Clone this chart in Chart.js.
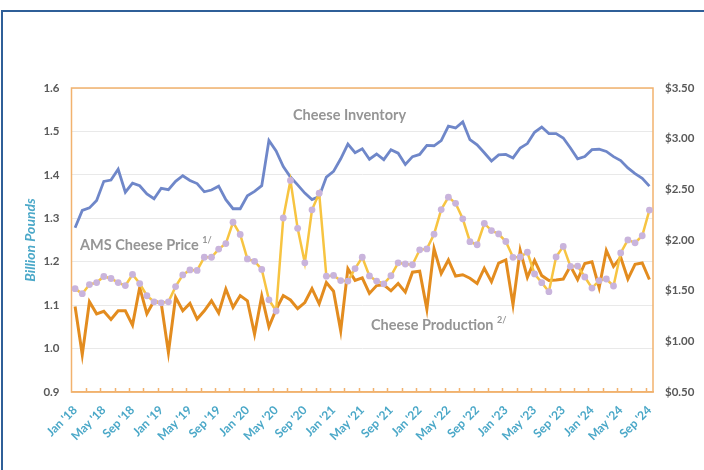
<!DOCTYPE html>
<html>
<head>
<meta charset="utf-8">
<script src="https://cdn.jsdelivr.net/npm/chart.js@4.4.1/dist/chart.umd.min.js"></script>
<style>
  html, body { margin: 0; padding: 0; background: #fff; }
  body { width: 704px; height: 470px; overflow: hidden; position: relative; }
  #frame { position: absolute; left: 1px; top: 10px; width: 780px; height: 540px; border: 2px solid #2f5f98; box-sizing: border-box; }
  #wrap { position: absolute; left: 0; top: 0; width: 704px; height: 470px; }
</style>
</head>
<body>
<div id="frame"></div>
<div id="wrap"><canvas id="myChart" width="704" height="470"></canvas></div>
<script>
'use strict';

// months Jan '18 .. Sep '24
const monthNames = ['Jan', 'Feb', 'Mar', 'Apr', 'May', 'Jun', 'Jul', 'Aug', 'Sep', 'Oct', 'Nov', 'Dec'];
const years = ['18', '19', '20', '21', '22', '23', '24'];
const labels = [];
years.forEach(yr => {
  monthNames.forEach(m => {
    if (labels.length < 81) labels.push(m + " '" + yr);
  });
});

// billion pounds
const inventory = [
  1.278, 1.318, 1.324, 1.341, 1.385, 1.388, 1.413, 1.360, 1.381, 1.375, 1.356, 1.345,
  1.369, 1.366, 1.385, 1.398, 1.387, 1.380, 1.361, 1.365, 1.374, 1.343, 1.322, 1.322,
  1.352, 1.362, 1.375, 1.479, 1.455, 1.419, 1.395, 1.377, 1.358, 1.343, 1.350, 1.395,
  1.408, 1.437, 1.471, 1.451, 1.460, 1.436, 1.448, 1.435, 1.458, 1.450, 1.424, 1.442,
  1.447, 1.468, 1.467, 1.479, 1.512, 1.508, 1.522, 1.481, 1.469, 1.451, 1.432, 1.446,
  1.447, 1.439, 1.462, 1.472, 1.498, 1.510, 1.495, 1.495, 1.485, 1.462, 1.437, 1.442,
  1.458, 1.459, 1.454, 1.442, 1.433, 1.416, 1.403, 1.392, 1.374
];
const production = [
  1.097, 0.986, 1.108, 1.080, 1.086, 1.067, 1.087, 1.087, 1.054, 1.141, 1.080, 1.110,
  1.104, 0.991, 1.118, 1.087, 1.104, 1.068, 1.087, 1.110, 1.082, 1.137, 1.095, 1.122,
  1.110, 1.033, 1.121, 1.050, 1.090, 1.122, 1.112, 1.092, 1.106, 1.138, 1.103, 1.152,
  1.132, 1.041, 1.184, 1.157, 1.163, 1.127, 1.145, 1.147, 1.133, 1.150, 1.130, 1.176,
  1.178, 1.091, 1.230, 1.173, 1.204, 1.167, 1.170, 1.162, 1.150, 1.185, 1.154, 1.197,
  1.204, 1.101, 1.226, 1.164, 1.203, 1.168, 1.157, 1.158, 1.160, 1.190, 1.159, 1.196,
  1.200, 1.140, 1.226, 1.189, 1.210, 1.160, 1.194, 1.197, 1.159
];
// dollars per pound
const price = [
  1.52, 1.47, 1.56, 1.58, 1.64, 1.62, 1.58, 1.55, 1.66, 1.57, 1.45, 1.39,
  1.38, 1.39, 1.54, 1.655, 1.705, 1.70, 1.83, 1.83, 1.91, 1.965, 2.175, 2.055,
  1.813, 1.79, 1.71, 1.41, 1.30, 2.217, 2.588, 2.115, 1.775, 2.298, 2.462, 1.643,
  1.65, 1.60, 1.595, 1.718, 1.83, 1.645, 1.595, 1.568, 1.647, 1.775, 1.763, 1.756,
  1.903, 1.912, 2.057, 2.30, 2.423, 2.362, 2.209, 1.983, 1.953, 2.163, 2.093, 2.06,
  1.985, 1.829, 1.832, 1.879, 1.665, 1.579, 1.49, 1.833, 1.937, 1.74, 1.743, 1.635,
  1.526, 1.60, 1.615, 1.546, 1.872, 2.001, 1.972, 2.042, 2.295
];

const leftTicks = [0.9, 1.0, 1.1, 1.2, 1.3, 1.4, 1.5, 1.6];
const rightTicks = [0.5, 1.0, 1.5, 2.0, 2.5, 3.0, 3.5];

const notes = [
  { text: 'Cheese Inventory', sup: '', x: 293, y: 115 },
  { text: 'AMS Cheese Price', sup: '1/', x: 80, y: 245 },
  { text: 'Cheese Production', sup: '2/', x: 371, y: 325 }
];

Chart.defaults.font.family = 'Lato, "Open Sans", sans-serif';

const axisOrange = '#f2b26e';
const tickGrey = '#595959';
const teal = '#4ba8c8';

const extras = {
  id: 'extras',
  beforeDatasetsDraw(chart) {
    const { ctx, chartArea: a, scales: { x } } = chart;
    ctx.save();
    ctx.strokeStyle = axisOrange;
    ctx.lineWidth = 1.5;
    ctx.strokeRect(a.left, a.top, a.right - a.left, a.bottom - a.top);
    const half = (x.getPixelForValue(1) - x.getPixelForValue(0)) / 2;
    for (let i = 2; i < labels.length; i += 2) {
      const px = Math.round(x.getPixelForValue(i) - half) + 0.5;
      ctx.beginPath();
      ctx.moveTo(px, a.bottom);
      ctx.lineTo(px, a.bottom - 4);
      ctx.stroke();
    }
    ctx.fillStyle = '#959595';
    ctx.textBaseline = 'middle';
    notes.forEach(n => {
      ctx.font = 'bold 14.5px Lato';
      ctx.fillText(n.text, n.x, n.y);
      if (n.sup) {
        const w = ctx.measureText(n.text + ' ').width;
        ctx.font = 'bold 9px Lato';
        ctx.fillText(n.sup, n.x + w, n.y - 5);
      }
    });
    ctx.restore();
  }
};

const ctx = document.getElementById('myChart').getContext('2d');
const myChart = new Chart(ctx, {
  type: 'line',
  data: {
    labels: labels,
    datasets: [
      {
        label: 'AMS Cheese Price',
        data: price,
        yAxisID: 'y1',
        borderColor: '#f7c441',
        borderWidth: 2.5,
        pointRadius: 3.4,
        pointBackgroundColor: '#c9b4dc',
        pointBorderWidth: 0,
        tension: 0
      },
      {
        label: 'Cheese Production',
        data: production,
        yAxisID: 'y',
        borderColor: '#e38c1f',
        borderWidth: 3,
        pointRadius: 0,
        tension: 0
      },
      {
        label: 'Cheese Inventory',
        data: inventory,
        yAxisID: 'y',
        borderColor: '#6f87c9',
        borderWidth: 2.8,
        pointRadius: 0,
        tension: 0
      }
    ]
  },
  options: {
    responsive: false,
    animation: false,
    layout: { padding: { top: 88, bottom: 18, left: 0, right: 0 } },
    plugins: {
      legend: { display: false },
      tooltip: { enabled: false }
    },
    scales: {
      x: {
        offset: true,
        grid: { display: false },
        border: { color: axisOrange, width: 1.5 },
        ticks: {
          autoSkip: false,
          maxRotation: 45,
          minRotation: 45,
          padding: 3,
          color: teal,
          font: { size: 12, weight: 'bold' },
          callback: (v, i) => (i % 4 === 0 ? labels[i] : '')
        },
        afterFit: s => { s.height = 60; }
      },
      y: {
        position: 'left',
        min: 0.9,
        max: 1.6,
        afterBuildTicks: s => { s.ticks = leftTicks.map(v => ({ value: v })); },
        ticks: {
          padding: 12,
          color: tickGrey,
          font: { size: 11.5, weight: 'bold' },
          callback: v => v.toFixed(1)
        },
        grid: { color: '#e9e9e9', drawTicks: false },
        border: { display: false },
        title: {
          display: true,
          text: 'Billion Pounds',
          color: teal,
          font: { size: 14, style: 'italic', weight: 'bold' },
          padding: { top: 22, bottom: 0 }
        },
        afterFit: s => { s.width = 71.5; }
      },
      y1: {
        position: 'right',
        min: 0.5,
        max: 3.5,
        afterBuildTicks: s => { s.ticks = rightTicks.map(v => ({ value: v })); },
        ticks: {
          padding: 12,
          color: tickGrey,
          font: { size: 11.5, weight: 'bold' },
          callback: v => '$' + v.toFixed(2)
        },
        grid: { display: false, drawTicks: false },
        border: { display: false },
        afterFit: s => { s.width = 51; }
      }
    }
  },
  plugins: [extras]
});
</script>
</body>
</html>
